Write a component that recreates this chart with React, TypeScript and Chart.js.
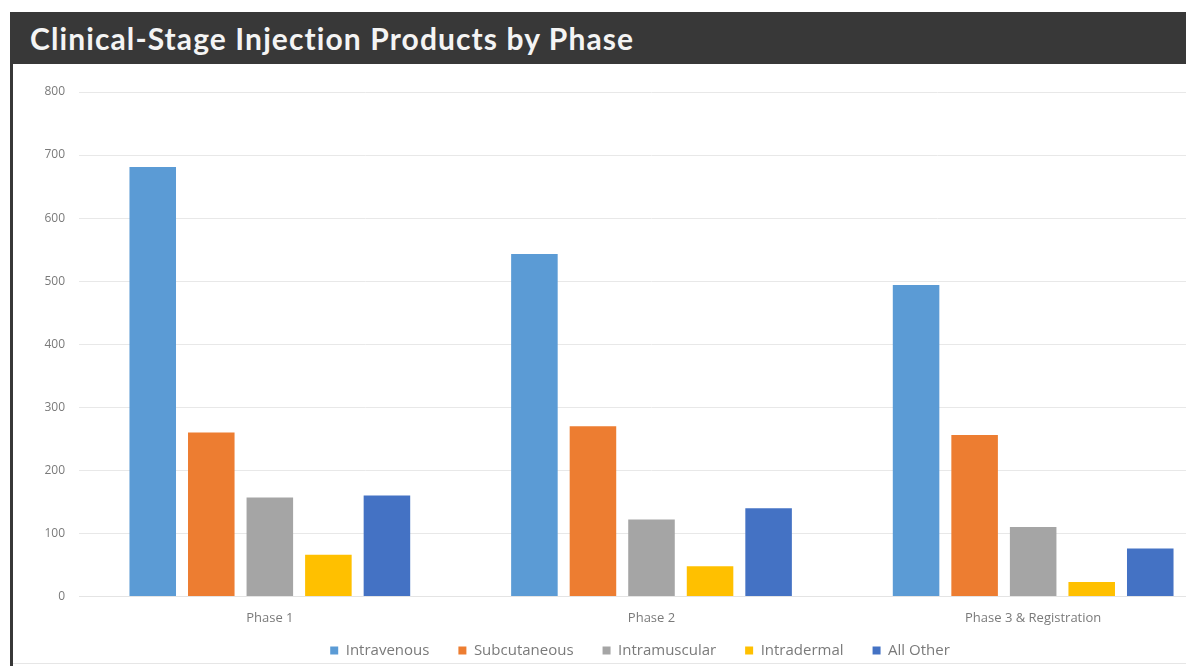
import React, { useEffect, useRef } from "react";
import { Chart, registerables } from "chart.js";

Chart.register(...registerables);

// Phases on the category axis
const phases = ["Phase 1", "Phase 2", "Phase 3 & Registration"];

// Product counts per route of administration, one value per phase
const intravenous = [681, 543, 494];
const subcutaneous = [260, 270, 256];
const intramuscular = [157, 122, 110];
const intradermal = [66, 48, 23];
const allOther = [160, 140, 76];

// Value axis
const yMax = 800;
const yStep = 100;

const seriesNames = ["Intravenous", "Subcutaneous", "Intramuscular", "Intradermal", "All Other"];
const seriesColors = ["#5b9bd5", "#ed7d31", "#a5a5a5", "#ffc000", "#4472c4"];

const TITLE = "Clinical-Stage Injection Products by Phase";

// Keeps the wide gaps between legend items while letting the legend box
// claim less vertical room: the box is shortened for layout, then its top is
// moved back up so the items are drawn (and clipped) as usual.
const LEGEND_TRIM = 26;
const compactLegend = {
  id: "compactLegend",
  beforeInit(chart: any) {
    const legend = chart.legend;
    if (!legend) return;
    const fit = legend.fit;
    legend.fit = function () {
      fit.call(this);
      this.height -= LEGEND_TRIM;
    };
  },
  afterLayout(chart: any) {
    if (chart.legend) chart.legend.top -= LEGEND_TRIM;
  },
};

export default function App() {
  const canvasRef = useRef<HTMLCanvasElement | null>(null);

  useEffect(() => {
    const canvas = canvasRef.current;
    if (!canvas) return;
    const values = [intravenous, subcutaneous, intramuscular, intradermal, allOther];
    const chart = new Chart(canvas, {
      type: "bar",
      data: {
        labels: phases,
        datasets: values.map((v, i) => ({
          label: seriesNames[i],
          data: v,
          backgroundColor: seriesColors[i],
          borderWidth: 0,
          categoryPercentage: 0.767,
          barPercentage: 0.795,
        })),
      },
      plugins: [compactLegend],
      options: {
        animation: false,
        responsive: false,
        maintainAspectRatio: false,
        layout: { padding: { top: 28, right: 0, bottom: 2, left: 0 } },
        plugins: {
          title: { display: false },
          tooltip: { enabled: false },
          legend: {
            position: "bottom",
            labels: {
              boxWidth: 8,
              boxHeight: 8,
              padding: 29,
              color: "#7a7a7a",
              font: { family: "'Open Sans', sans-serif", size: 15 },
            },
          },
        },
        scales: {
          x: {
            grid: { display: false, drawTicks: false },
            border: { display: true, color: "#e4e4e4" },
            ticks: {
              padding: 14,
              color: "#7a7a7a",
              font: { family: "'Open Sans', sans-serif", size: 13 },
            },
          },
          y: {
            min: 0,
            max: yMax,
            afterFit: (scale: any) => {
              scale.width = 65;
            },
            grid: { color: "#e8e8e8", drawTicks: false },
            border: { display: false },
            ticks: {
              stepSize: yStep,
              padding: 14,
              color: "#7a7a7a",
              font: { family: "'Open Sans', sans-serif", size: 12 },
            },
          },
          // empty right-hand axis: reserves space on the right of the plot only
          yRight: {
            position: "right",
            afterFit: (scale: any) => {
              scale.width = 42;
            },
            grid: { display: false, drawTicks: false },
            border: { display: false },
            ticks: { display: false },
          },
        },
      },
    });
    return () => chart.destroy();
  }, []);

  return (
    <div style={{ position: "fixed", inset: 0, overflow: "hidden", background: "#ffffff" }}>
      <div
        style={{
          position: "absolute",
          left: 12,
          top: 12,
          width: 1300,
          height: 52,
          background: "#383838",
          color: "#f4f4f4",
          fontFamily: "Lato, 'Open Sans', sans-serif",
          fontWeight: 700,
          fontSize: 30,
          letterSpacing: "1.1px",
          lineHeight: "52px",
          paddingLeft: 18,
          boxSizing: "border-box",
          whiteSpace: "nowrap",
        }}
      >
        {TITLE}
      </div>
      <div style={{ position: "absolute", left: 10, top: 12, width: 3, height: 654, background: "#383838" }} />
      <div style={{ position: "absolute", left: 13, top: 663, width: 1300, height: 1, background: "#e6e6e6" }} />
      <div style={{ position: "absolute", left: 14, top: 64 }}>
        <canvas ref={canvasRef} width={1252} height={606} />
      </div>
    </div>
  );
}
